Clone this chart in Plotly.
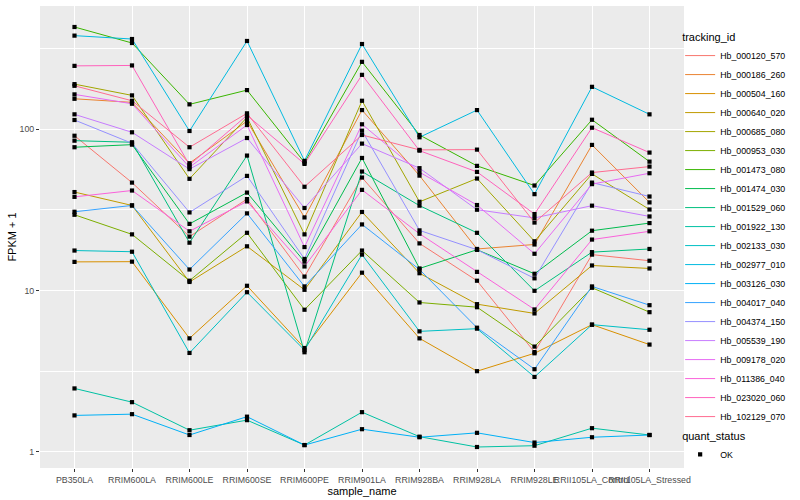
import numpy as np
import plotly.graph_objects as go

samples = ["PB350LA", "RRIM600LA", "RRIM600LE", "RRIM600SE", "RRIM600PE",
           "RRIM901LA", "RRIM928BA", "RRIM928LA", "RRIM928LE",
           "RRII105LA_Control", "RRII105LA_Stressed"]

tracking_ids = ["Hb_000120_570", "Hb_000186_260", "Hb_000504_160", "Hb_000640_020",
                "Hb_000685_080", "Hb_000953_030", "Hb_001473_080", "Hb_001474_030",
                "Hb_001529_060", "Hb_001922_130", "Hb_002133_030", "Hb_002977_010",
                "Hb_003126_030", "Hb_004017_040", "Hb_004374_150", "Hb_005539_190",
                "Hb_009178_020", "Hb_011386_040", "Hb_023020_060", "Hb_102129_070"]

colors = ["#F8766D", "#EA8331", "#D89000", "#C09B00", "#A3A500", "#7CAE00", "#39B600",
          "#00BB4E", "#00BF7D", "#00C1A3", "#00BFC4", "#00BAE0", "#00B0F6", "#35A2FF",
          "#9590FF", "#C77CFF", "#E76BF3", "#FA62DB", "#FF62BC", "#FF6C91"]

# FPKM + 1 per sample (order of `samples`)
hb_000120_570 = [91.2, 46.7, 21.6, 36.9, 12.2, 50.2, 19.6, 11.5, 4.15, 16.7, 15.3]
hb_000186_260 = [154.6, 146.9, 61.6, 112.5, 28.4, 131.6, 51.6, 18.1, 19.3, 80.0, 35.2]
hb_000504_160 = [15.05, 15.1, 5.05, 10.7, 4.40, 12.9, 5.05, 3.16, 4.08, 6.14, 4.62]
hb_000640_020 = [40.8, 33.7, 11.3, 18.8, 10.1, 30.7, 12.8, 8.23, 7.21, 14.3, 13.7]
hb_000685_080 = [190.6, 162.3, 49.3, 118.6, 22.3, 150.3, 35.5, 49.5, 20.2, 52.9, 31.8]
hb_000953_030 = [29.5, 22.3, 11.5, 22.8, 7.60, 17.7, 8.43, 7.88, 4.49, 10.4, 7.34]
hb_001473_080 = [431.0, 343.0, 142.8, 175.0, 62.2, 262.0, 92.2, 59.3, 44.8, 114.6, 63.0]
hb_001474_030 = [77.4, 80.3, 25.9, 40.5, 15.1, 66.4, 13.7, 17.9, 12.7, 23.5, 26.2]
hb_001529_060 = [85.0, 83.1, 19.8, 68.7, 4.14, 54.7, 33.6, 22.8, 9.96, 17.3, 18.1]
hb_001922_130 = [2.47, 2.03, 1.36, 1.57, 1.10, 1.76, 1.24, 1.07, 1.09, 1.40, 1.27]
hb_002133_030 = [17.7, 17.4, 4.10, 9.76, 4.27, 16.7, 5.58, 5.80, 2.91, 6.14, 5.71]
hb_002977_010 = [381.0, 363.0, 97.6, 353.0, 63.7, 338.0, 89.2, 131.6, 39.6, 183.4, 123.8]
hb_003126_030 = [1.68, 1.71, 1.27, 1.65, 1.10, 1.38, 1.23, 1.31, 1.14, 1.23, 1.27]
hb_004017_040 = [30.8, 33.7, 13.5, 30.1, 10.6, 25.7, 13.5, 5.88, 3.25, 10.6, 8.11]
hb_004374_150 = [114.2, 81.9, 30.5, 51.4, 15.7, 98.0, 23.6, 17.9, 11.9, 46.7, 38.3]
hb_005539_190 = [123.8, 95.8, 56.6, 88.3, 32.5, 81.5, 57.4, 31.7, 28.2, 33.6, 28.8]
hb_009178_020 = [164.6, 144.0, 58.2, 106.3, 18.6, 107.4, 54.2, 33.9, 16.9, 45.7, 53.4]
hb_011386_040 = [38.1, 41.7, 23.3, 35.7, 14.1, 42.1, 22.5, 13.05, 7.63, 20.7, 23.3]
hb_023020_060 = [247.4, 248.9, 60.1, 122.1, 61.0, 217.6, 73.7, 54.4, 29.8, 102.3, 71.7]
hb_102129_070 = [186.1, 150.3, 77.4, 125.6, 44.0, 92.2, 74.5, 74.8, 26.4, 53.9, 58.7]

series = [hb_000120_570, hb_000186_260, hb_000504_160, hb_000640_020, hb_000685_080,
          hb_000953_030, hb_001473_080, hb_001474_030, hb_001529_060, hb_001922_130,
          hb_002133_030, hb_002977_010, hb_003126_030, hb_004017_040, hb_004374_150,
          hb_005539_190, hb_009178_020, hb_011386_040, hb_023020_060, hb_102129_070]

quant_status = "OK"
y_tick_values = [1, 10, 100]
y_tick_labels = ["1", "10", "100"]
y_minor_values = [10 ** 0.5, 10 ** 1.5, 10 ** 2.5]

FONT = "Liberation Sans, Arial, Helvetica, sans-serif"

fig = go.Figure()
for tid, col, vals in zip(tracking_ids, colors, series):
    fig.add_trace(go.Scatter(
        x=samples, y=vals, mode="lines", name=tid,
        line=dict(color=col, width=1.0), legend="legend",
        hoverinfo="x+y+name"))

all_x = [s for vals in series for s in samples]
all_y = [v for vals in series for v in vals]
fig.add_trace(go.Scatter(
    x=all_x, y=all_y, mode="markers", name=quant_status,
    marker=dict(symbol="square", size=4.2, color="black", line=dict(width=0)),
    legend="legend2"))

lo = np.log10(min(all_y))
hi = np.log10(max(all_y))
span = hi - lo

fig.update_layout(
    width=800, height=500,
    margin=dict(l=40, r=116, t=6, b=32, autoexpand=False),
    paper_bgcolor="white", plot_bgcolor="#EBEBEB",
    font=dict(family=FONT, size=9, color="#4D4D4D"),
    showlegend=True,
    legend=dict(
        title=dict(text="tracking_id", font=dict(size=11, color="black")),
        font=dict(size=8.8, color="black"),
        x=0.994, xanchor="left", y=0.955, yanchor="top",
        bgcolor="rgba(0,0,0,0)", tracegroupgap=0, itemwidth=30),
    legend2=dict(
        title=dict(text="quant_status", font=dict(size=11, color="black")),
        font=dict(size=8.8, color="black"),
        x=0.994, xanchor="left", y=0.092, yanchor="top",
        bgcolor="rgba(0,0,0,0)", itemwidth=30),
)

fig.update_xaxes(
    type="category", categoryorder="array", categoryarray=samples,
    range=[-0.6, len(samples) - 0.4],
    showgrid=True, gridcolor="white", gridwidth=1.07,
    ticks="outside", ticklen=3, tickwidth=1, tickcolor="#333333",
    tickangle=0, tickfont=dict(size=8.8, color="#4D4D4D"),
    showline=False, zeroline=False, automargin=False,
    title=dict(text="sample_name", font=dict(size=11, color="black"), standoff=0),
)

fig.update_yaxes(
    type="log", range=[lo - 0.05 * span, hi + 0.05 * span],
    tickmode="array", tickvals=y_tick_values, ticktext=y_tick_labels,
    showgrid=True, gridcolor="white", gridwidth=1.07,
    minor=dict(tickmode="array", tickvals=y_minor_values, showgrid=True,
               gridcolor="white", gridwidth=0.53, ticks=""),
    ticks="outside", ticklen=3, tickwidth=1, tickcolor="#333333",
    tickfont=dict(size=8.8, color="#4D4D4D"),
    showline=False, zeroline=False, automargin=False,
    title=dict(text="FPKM + 1", font=dict(size=11, color="black"), standoff=0),
)

fig.write_html("out.html",
               config={"displayModeBar": False},
               post_script="document.body.style.margin='0';document.body.style.padding='0';")
